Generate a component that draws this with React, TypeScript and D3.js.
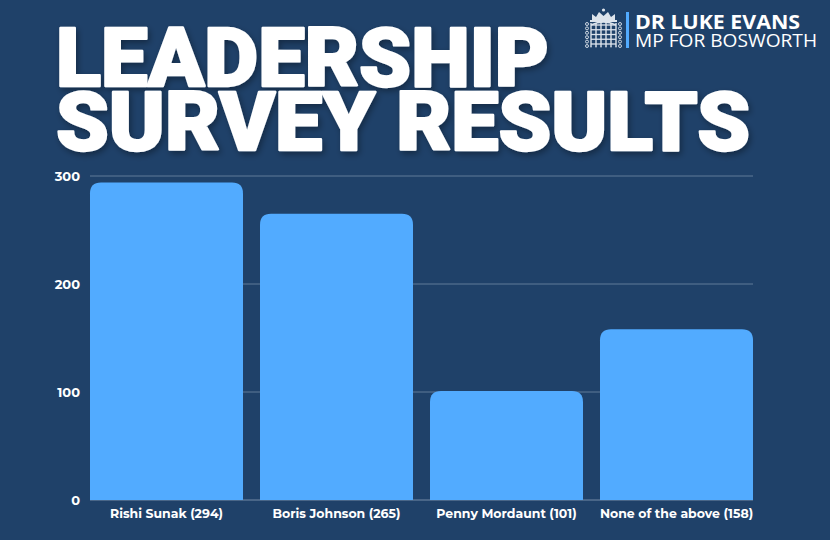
import React from "react";
import * as d3 from "d3";

const categories = ["Rishi Sunak (294)", "Boris Johnson (265)", "Penny Mordaunt (101)", "None of the above (158)"];
const values = [294, 265, 101, 158];
const yTicks = [0, 100, 200, 300];
const titleLines = ["LEADERSHIP", "SURVEY RESULTS"];

const W = 830;
const H = 540;
const BG = "#1f4169";
const BAR = "#52abff";

function topRoundedBar(x: number, y: number, w: number, h: number, r: number) {
  const rr = Math.min(r, w / 2, h);
  const p = d3.path();
  p.moveTo(x, y + h);
  p.lineTo(x, y + rr);
  p.quadraticCurveTo(x, y, x + rr, y);
  p.lineTo(x + w - rr, y);
  p.quadraticCurveTo(x + w, y, x + w, y + rr);
  p.lineTo(x + w, y + h);
  p.closePath();
  return p.toString();
}

function Portcullis() {
  const c = "#dde4ec";
  const gx = 591, gy = 22, gw = 25, gh = 22;
  const verts = d3.range(6).map((i) => gx + (i * gw) / 5);
  const hors = d3.range(5).map((i) => gy + 3 + (i * (gh - 3)) / 4);
  const chainY = d3.range(6).map((i) => 24 + i * 4.4);
  return (
    <g>
      <path d="M592,20 L592,14 L596,17 L599,12 L603.5,16 L608,12 L611,17 L615,14 L615,20 Z" fill={c} />
      <circle cx={603.5} cy={10} r={1.6} fill={c} />
      <rect x={590} y={20} width={27} height={2} fill={c} />
      <path d={`M${gx},${gy + 3} Q${gx + gw / 2},${gy - 3} ${gx + gw},${gy + 3}`} fill="none" stroke={c} strokeWidth={1.4} />
      {verts.map((x, i) => (
        <line key={"v" + i} x1={x} x2={x} y1={gy + 1} y2={gy + gh + 2} stroke={c} strokeWidth={1.4} />
      ))}
      {hors.map((y, i) => (
        <line key={"h" + i} x1={gx} x2={gx + gw} y1={y} y2={y} stroke={c} strokeWidth={1.3} />
      ))}
      {verts.map((x, i) => (
        <path key={"p" + i} d={`M${x - 1},${gy + gh + 2} L${x},${gy + gh + 4} L${x + 1},${gy + gh + 2}Z`} fill={c} />
      ))}
      {chainY.map((y, i) => (
        <g key={"c" + i}>
          <circle cx={587} cy={y} r={1.5} fill="none" stroke={c} strokeWidth={0.9} />
          <circle cx={620} cy={y} r={1.5} fill="none" stroke={c} strokeWidth={0.9} />
        </g>
      ))}
    </g>
  );
}

export default function App() {
  const x = d3.scaleBand<string>().domain(categories).range([90, 753]).paddingInner(0.1).paddingOuter(0);
  const y = d3.scaleLinear().domain([0, 300]).range([500, 176]);

  return (
    <svg width={W} height={H} style={{ position: "absolute", left: 0, top: 0, display: "block" }}>
      <defs>
        <filter id="ts" x="-10%" y="-20%" width="130%" height="150%">
          <feDropShadow dx="2" dy="3" stdDeviation="3" floodColor="#000" floodOpacity="0.35" />
        </filter>
      </defs>
      <rect x={0} y={0} width={W} height={H} fill={BG} />

      {/* title */}
      <g filter="url(#ts)" fontFamily="Roboto, 'Open Sans', sans-serif" fontWeight={900} fill="#ffffff" stroke="#ffffff" strokeWidth={2.4} strokeLinejoin="round" fontSize={82}>
        <text x={56} y={85.5} textLength={493} lengthAdjust="spacingAndGlyphs">{titleLines[0]}</text>
        <text x={56} y={149.5} textLength={694} lengthAdjust="spacingAndGlyphs">{titleLines[1]}</text>
      </g>

      {/* logo */}
      <Portcullis />
      <rect x={626} y={12} width={3} height={36} fill={BAR} />
      <text x={635} y={29} fontFamily="'Open Sans', sans-serif" fontWeight={700} fontSize={20} fill="#fff" textLength={165} lengthAdjust="spacingAndGlyphs">DR LUKE EVANS</text>
      <text x={635} y={47} fontFamily="'Open Sans', sans-serif" fontWeight={400} fontSize={19} fill="#fff" textLength={182} lengthAdjust="spacingAndGlyphs">MP FOR BOSWORTH</text>

      {/* grid */}
      {yTicks.map((t) => (
        <line key={t} x1={90} x2={753} y1={y(t)} y2={y(t)} stroke="#7d93ad" strokeWidth={1} opacity={t === 0 ? 0.9 : 0.7} />
      ))}

      {/* bars */}
      {categories.map((c, i) => (
        <path key={c} d={topRoundedBar(x(c)!, y(values[i]), x.bandwidth(), y(0) - y(values[i]), 11)} fill={BAR} />
      ))}

      {/* y labels */}
      {yTicks.map((t) => (
        <text key={"l" + t} x={80} y={y(t)} dy="0.35em" textAnchor="end" fontFamily="Montserrat, 'Open Sans', sans-serif" fontWeight={700} fontSize={13} fill="#fff">
          {t}
        </text>
      ))}

      {/* x labels */}
      {categories.map((c) => (
        <text key={"x" + c} x={x(c)! + x.bandwidth() / 2} y={518} textAnchor="middle" fontFamily="Montserrat, 'Open Sans', sans-serif" fontWeight={700} fontSize={12.5} fill="#fff">
          {c}
        </text>
      ))}
    </svg>
  );
}
